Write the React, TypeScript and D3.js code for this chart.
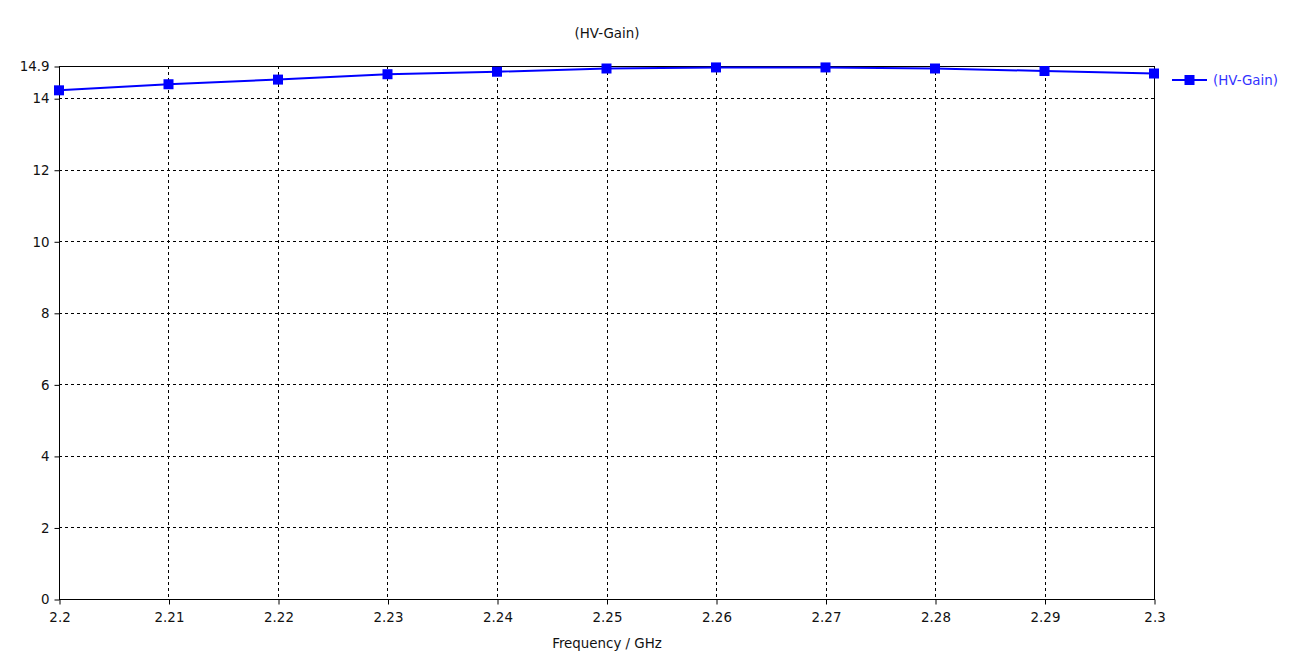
import React, { useEffect, useRef } from 'react';
import * as d3 from 'd3';

// Frequency sweep (GHz) and gain values
const frequencies = [2.2, 2.21, 2.22, 2.23, 2.24, 2.25, 2.26, 2.27, 2.28, 2.29, 2.3];
const gainValues = [14.22, 14.39, 14.52, 14.67, 14.74, 14.83, 14.86, 14.86, 14.83, 14.76, 14.69];
const yTicks = [0, 2, 4, 6, 8, 10, 12, 14, 14.9];
const xTicks = [2.2, 2.21, 2.22, 2.23, 2.24, 2.25, 2.26, 2.27, 2.28, 2.29, 2.3];
const seriesName = '(HV-Gain)';

const App: React.FC = () => {
  const svgRef = useRef<SVGSVGElement>(null);

  useEffect(() => {
    if (!svgRef.current) return;
    const svg = d3.select(svgRef.current);
    svg.selectAll('*').remove();

    const margin = { top: 66, right: 155, bottom: 63, left: 59 };
    const totalW = 1309;
    const totalH = 662;
    const width = totalW - margin.left - margin.right;
    const height = totalH - margin.top - margin.bottom;
    const font = 'Tahoma, "DejaVu Sans", Verdana, sans-serif';
    const fontSize = '13.4px';
    const blue = '#0000ff';

    const x = d3.scaleLinear().domain([2.2, 2.3]).range([0, width]);
    const y = d3.scaleLinear().domain([0, 14.9]).range([height, 0]);

    const g = svg.append('g').attr('transform', `translate(${margin.left},${margin.top})`);

    // Grid lines
    const grid = g.append('g').attr('stroke', '#000').attr('stroke-dasharray', '3,3').attr('stroke-width', 1);
    xTicks.slice(1, -1).forEach(t => {
      grid.append('line')
        .attr('x1', Math.round(x(t)) + 0.5).attr('x2', Math.round(x(t)) + 0.5)
        .attr('y1', 0).attr('y2', height);
    });
    yTicks.filter(t => t > 0 && t < 14.9).forEach(t => {
      grid.append('line')
        .attr('x1', 0).attr('x2', width)
        .attr('y1', Math.round(y(t)) + 0.5).attr('y2', Math.round(y(t)) + 0.5);
    });

    // Frame
    g.append('rect')
      .attr('x', 0.5).attr('y', 0.5)
      .attr('width', width).attr('height', height)
      .attr('fill', 'none').attr('stroke', '#000');

    // Axes
    const xAxis = g.append('g')
      .attr('transform', `translate(0.5,${height + 0.5})`)
      .call(d3.axisBottom(x).tickValues(xTicks).tickSize(5).tickPadding(8).tickFormat(d => String(d)));
    const yAxis = g.append('g')
      .attr('transform', 'translate(0.5,0.5)')
      .call(d3.axisLeft(y).tickValues(yTicks).tickSize(5).tickPadding(5).tickFormat(d => String(d)));

    [xAxis, yAxis].forEach(a => {
      a.select('.domain').remove();
      a.selectAll('line').attr('stroke', '#000');
      a.selectAll('text')
        .attr('fill', '#111')
        .style('font-family', font)
        .style('font-size', fontSize);
    });

    // Series line
    const pts = frequencies.map((f, i) => ({ f, v: gainValues[i] }));
    const line = d3.line<{ f: number; v: number }>()
      .x(d => x(d.f))
      .y(d => y(d.v));

    g.append('path')
      .datum(pts)
      .attr('fill', 'none')
      .attr('stroke', blue)
      .attr('stroke-width', 2)
      .attr('d', line);

    g.selectAll('rect.marker')
      .data(pts)
      .enter()
      .append('rect')
      .attr('class', 'marker')
      .attr('x', d => x(d.f) - 5)
      .attr('y', d => y(d.v) - 5)
      .attr('width', 10)
      .attr('height', 10)
      .attr('fill', blue);

    // Title
    svg.append('text')
      .attr('x', 607)
      .attr('y', 38)
      .attr('text-anchor', 'middle')
      .attr('fill', '#111')
      .style('font-family', font)
      .style('font-size', fontSize)
      .text(seriesName);

    // X axis label
    svg.append('text')
      .attr('x', 607)
      .attr('y', 648)
      .attr('text-anchor', 'middle')
      .attr('fill', '#111')
      .style('font-family', font)
      .style('font-size', fontSize)
      .text('Frequency / GHz');

    // Legend
    const legend = svg.append('g').attr('transform', 'translate(1172,80)');
    legend.append('line')
      .attr('x1', 0).attr('x2', 35)
      .attr('y1', 0).attr('y2', 0)
      .attr('stroke', blue).attr('stroke-width', 2);
    legend.append('rect')
      .attr('x', 12.5).attr('y', -5)
      .attr('width', 10).attr('height', 10)
      .attr('fill', blue);
    legend.append('text')
      .attr('x', 41)
      .attr('y', 5)
      .attr('fill', '#3333ff')
      .style('font-family', font)
      .style('font-size', fontSize)
      .text(seriesName);
  }, []);

  return (
    <svg
      ref={svgRef}
      width={1309}
      height={662}
      style={{ position: 'absolute', left: 0, top: 0, background: '#fff' }}
    />
  );
};

export default App;
